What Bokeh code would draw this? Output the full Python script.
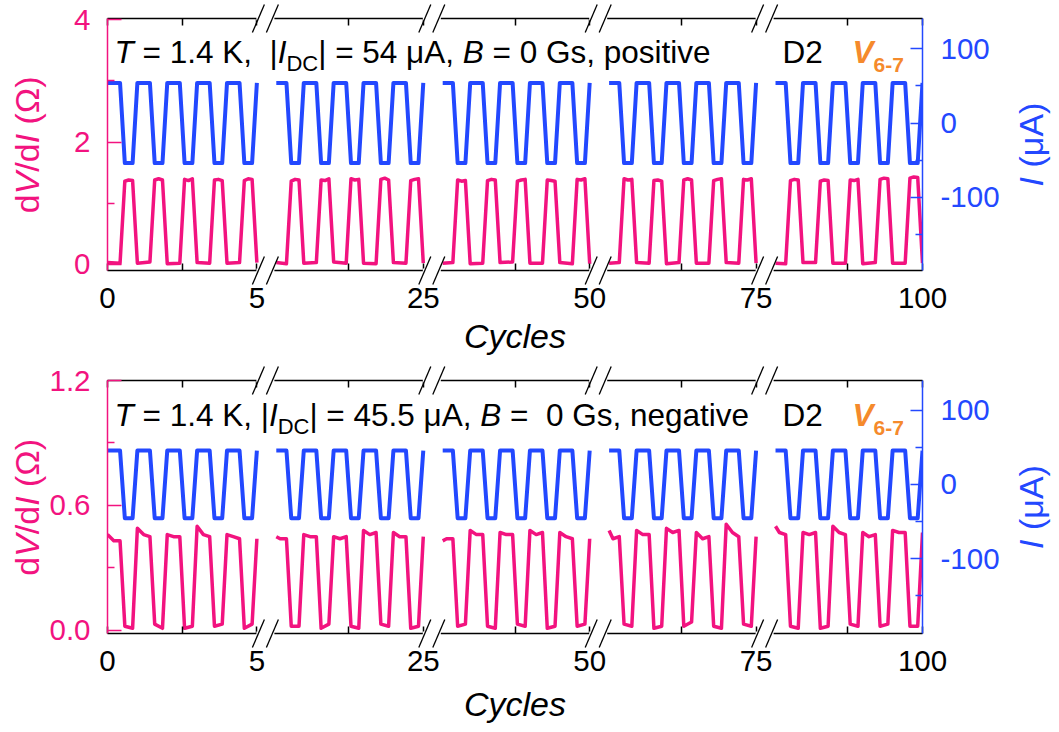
import re
from bokeh.plotting import figure
from bokeh.models import Range1d, LinearAxis, FixedTicker
from bokeh.core.properties import value
from bokeh.layouts import column
from bokeh.embed import file_html
from bokeh.resources import INLINE

# ---------------- data ----------------
axis_break_labels = ["0", "5", "25", "50", "75", "100"]     # cycle numbers at segment edges
cycles_per_segment = 5
# one drive cycle of the square-wave current: phase -> sign
current_phase = [0.0, 0.42, 0.58, 0.84, 1.0]
current_sign = [1, 1, -1, -1, 1]
I_dc_top = 54.0        # uA
I_dc_bottom = 45.5     # uA
# dV/dI sample phases inside one cycle
plateau_phase_hi = [0.58, 0.71, 0.84]   # top panel (high while current is negative)
plateau_phase_lo = [0.0, 0.42]
plateau_phase_hi_b = [0.0, 0.21, 0.42]  # bottom panel (high while current is positive)
plateau_phase_lo_b = [0.58, 0.84]

dvdi_high_top = [
    [1.36, 1.38, 1.37], [1.38, 1.40, 1.38], [1.39, 1.37, 1.40], [1.38, 1.39, 1.37], [1.37, 1.40, 1.39],
    [1.36, 1.39, 1.38], [1.38, 1.37, 1.40], [1.40, 1.38, 1.39], [1.39, 1.41, 1.38], [1.37, 1.39, 1.40],
    [1.38, 1.36, 1.37], [1.37, 1.39, 1.38], [1.36, 1.38, 1.39], [1.38, 1.37, 1.36], [1.39, 1.38, 1.40],
    [1.40, 1.38, 1.39], [1.37, 1.38, 1.36], [1.38, 1.40, 1.38], [1.37, 1.39, 1.40], [1.39, 1.38, 1.40],
    [1.37, 1.39, 1.38], [1.36, 1.38, 1.37], [1.38, 1.37, 1.39], [1.39, 1.41, 1.40], [1.41, 1.43, 1.42],
]
dvdi_low_top = [
    [0.03, 0.02], [0.02, 0.04], [0.01, 0.02], [0.03, 0.02], [0.02, 0.03],
    [0.03, 0.01], [0.02, 0.03], [0.04, 0.02], [0.02, 0.01], [0.03, 0.02],
    [0.02, 0.03], [0.01, 0.02], [0.03, 0.04], [0.02, 0.02], [0.03, 0.01],
    [0.02, 0.03], [0.03, 0.02], [0.01, 0.03], [0.02, 0.02], [0.03, 0.02],
    [0.02, 0.01], [0.03, 0.03], [0.02, 0.02], [0.01, 0.03], [0.02, 0.02],
]
dvdi_high_bottom = [
    [0.46, 0.43, 0.43], [0.49, 0.46, 0.45], [0.46, 0.45, 0.45], [0.50, 0.46, 0.45], [0.46, 0.45, 0.44],
    [0.45, 0.44, 0.44], [0.46, 0.45, 0.45], [0.45, 0.44, 0.45], [0.48, 0.46, 0.47], [0.47, 0.45, 0.45],
    [0.43, 0.44, 0.44], [0.48, 0.46, 0.46], [0.47, 0.46, 0.46], [0.48, 0.46, 0.47], [0.47, 0.45, 0.44],
    [0.48, 0.44, 0.45], [0.48, 0.46, 0.46], [0.49, 0.47, 0.48], [0.47, 0.44, 0.45], [0.51, 0.47, 0.45],
    [0.50, 0.47, 0.46], [0.47, 0.46, 0.47], [0.50, 0.47, 0.46], [0.47, 0.45, 0.46], [0.48, 0.47, 0.47],
]
dvdi_low_bottom = [
    [0.02, 0.01], [0.03, 0.01], [0.01, 0.02], [0.02, 0.03], [0.01, 0.03],
    [0.02, 0.02], [0.01, 0.03], [0.02, 0.01], [0.03, 0.02], [0.01, 0.02],
    [0.02, 0.03], [0.02, 0.01], [0.03, 0.02], [0.01, 0.02], [0.02, 0.03],
    [0.03, 0.02], [0.01, 0.02], [0.02, 0.04], [0.02, 0.01], [0.03, 0.02],
    [0.02, 0.01], [0.01, 0.02], [0.03, 0.02], [0.02, 0.03], [0.02, 0.02],
]

# ---------------- style / layout ----------------
FONT = "Liberation Sans"
PINK = "#F2137F"
BLUE = "#2348FF"
ORANGE = "#F58A2C"
GAP = 0.57
SEG_STEP = cycles_per_segment + GAP
NSEG = len(axis_break_labels) - 1
X_END = (NSEG - 1) * SEG_STEP + cycles_per_segment
BASE_FIX = 0.36   # rendered alphabetic baseline sits lower by this fraction of the font size

ADV = {' ': 278, '(': 333, ')': 333, ',': 278, '-': 333, '.': 278, '/': 278, '=': 584, '|': 260,
       'A': 667, 'B': 667, 'C': 722, 'D': 722, 'G': 778, 'I': 278, 'K': 667, 'T': 611, 'V': 667,
       'a': 556, 'c': 500, 'd': 556, 'e': 556, 'g': 556, 'i': 222, 'l': 222, 'n': 556, 'o': 556,
       'p': 556, 's': 500, 't': 278, 'v': 500, 'y': 500, 'μ': 576, 'Ω': 768}


def adv(s, size):
    return sum(ADV.get(ch, 556) for ch in s) * size / 1000.0


class Geo:
    def __init__(self, left, right, top, bottom, height, xr, yr):
        self.left, self.right, self.top, self.bottom = left, right, top, bottom
        self.height = height
        self.xr, self.yr = xr, yr

    def x(self, px):
        return self.xr[0] + (px - self.left) / (self.right - self.left) * (self.xr[1] - self.xr[0])

    def y(self, py):
        return self.yr[0] + (self.bottom - py) / (self.bottom - self.top) * (self.yr[1] - self.yr[0])

    def px(self, x):
        return self.left + (x - self.xr[0]) / (self.xr[1] - self.xr[0]) * (self.right - self.left)


def put_text(p, geo, px, py, text, size, style, color, align="left", angle=0.0):
    if angle == 0:
        py -= BASE_FIX * size
    else:
        px -= BASE_FIX * size
    p.text(x=[geo.x(px)], y=[geo.y(py)], text=[text], text_font=value(FONT),
           text_font_size=value(f"{size}px"), text_font_style=value(style), text_color=color,
           text_align=value(align), text_baseline=value("alphabetic"), angle=angle, level="overlay")


def add_rich(p, geo, x0, y0, pieces, angle=0.0):
    pos = 0.0
    for text, size, style, color, dy in pieces:
        for m in re.finditer(r"\S+(?: \S+)*", text):
            off = pos + adv(text[:m.start()], size)
            if angle == 0:
                px, py = x0 + off, y0 + dy
            else:
                px, py = x0 + dy, y0 - off
            put_text(p, geo, px, py, m.group(0), size, style, color, angle=angle)
        pos += adv(text, size)


def style_axis(ax, color, major_in, minor_in, standoff, size="29.5px"):
    ax.axis_line_color = color
    ax.axis_line_width = 1.5
    ax.major_tick_line_color = color
    ax.minor_tick_line_color = color
    ax.major_tick_line_width = 1.5
    ax.minor_tick_line_width = 1.5
    ax.major_tick_in = major_in
    ax.major_tick_out = 0
    ax.minor_tick_in = minor_in
    ax.minor_tick_out = 0
    ax.major_label_text_color = color
    ax.major_label_text_font = FONT
    ax.major_label_text_font_size = size
    ax.major_label_standoff = standoff


def current_trace(amp):
    xs, ys = [], []
    for i in range(NSEG):
        sx, sy = [], []
        for k in range(cycles_per_segment):
            for j, (ph, sg) in enumerate(zip(current_phase, current_sign)):
                if j == len(current_phase) - 1 and k < cycles_per_segment - 1:
                    continue
                if k == 0 and j == 0 and i > 0:
                    ph = 0.08
                sx.append(i * SEG_STEP + k + ph)
                sy.append(sg * amp)
        xs.append(sx)
        ys.append(sy)
    return xs, ys


def dvdi_trace(hi, lo, inphase):
    xs, ys = [], []
    for i in range(NSEG):
        sx, sy = [], []
        for k in range(cycles_per_segment):
            n = i * cycles_per_segment + k
            b = i * SEG_STEP + k
            if inphase:
                pts = list(zip(plateau_phase_hi_b, hi[n])) + list(zip(plateau_phase_lo_b, lo[n]))
                end_v = hi[n][2]
            else:
                pts = list(zip(plateau_phase_lo, lo[n])) + list(zip(plateau_phase_hi, hi[n]))
                end_v = lo[n][1]
            if k == 0 and i > 0:
                pts[0] = (0.08, pts[0][1])
            for ph, v in pts:
                sx.append(b + ph)
                sy.append(v)
        sx.append(b + 1.0)
        sy.append(end_v)
        xs.append(sx)
        ys.append(sy)
    return xs, ys


def make_panel(geo, yI, lticks, lminor, lover, amp, hi, lo, inphase, note, base_y, cyc_y):
    p = figure(width=1059, height=geo.height, title=None, x_range=Range1d(*geo.xr), y_range=Range1d(*geo.yr),
               output_backend="svg", toolbar_location=None, x_axis_location=None, y_axis_location=None,
               min_border_left=geo.left, min_border_right=1059 - geo.right,
               min_border_top=geo.top, min_border_bottom=geo.height - geo.bottom)
    p.outline_line_color = None
    p.background_fill_color = "white"
    p.border_fill_color = "white"
    p.grid.visible = False
    p.extra_y_ranges = {"I": Range1d(*yI)}

    # broken x axis ticks
    xt = [0.0] + [round(i * SEG_STEP + cycles_per_segment, 4) for i in range(NSEG)]
    xm = [round(i * SEG_STEP + cycles_per_segment / 2, 4) for i in range(NSEG)]
    xover = {v: lab for v, lab in zip(xt, axis_break_labels)}

    bx = LinearAxis(ticker=FixedTicker(ticks=xt, minor_ticks=xm), major_label_overrides=xover)
    style_axis(bx, "black", 7, 7, 17)
    p.add_layout(bx, "below")
    tx = LinearAxis(ticker=FixedTicker(ticks=xt, minor_ticks=xm))
    style_axis(tx, "black", 7, 7, 0, size="1px")
    tx.major_label_text_color = None
    p.add_layout(tx, "above")

    ly = LinearAxis(ticker=FixedTicker(ticks=lticks, minor_ticks=lminor), major_label_overrides=lover)
    style_axis(ly, PINK, 14, 7, 17)
    p.add_layout(ly, "left")
    ry = LinearAxis(y_range_name="I", ticker=FixedTicker(ticks=[-100, 0, 100], minor_ticks=[-150, -50, 50]),
                    major_label_overrides={-100: "-100", 0: "0", 100: "100"})
    style_axis(ry, BLUE, 12, 7, 18)
    p.add_layout(ry, "right")

    cx, cy = current_trace(amp)
    p.multi_line(xs=cx, ys=cy, line_color=BLUE, line_width=4, line_join="round", y_range_name="I")
    dx, dy = dvdi_trace(hi, lo, inphase)
    p.multi_line(xs=dx, ys=dy, line_color=PINK, line_width=3.5, line_join="round")

    # axis breaks (white gap + double slash) on top and bottom axes
    ex0, ex1, ey = [], [], []
    sx0, sy0, sx1, sy1 = [], [], [], []
    for j in range(NSEG - 1):
        gc = geo.px(j * SEG_STEP + cycles_per_segment + GAP / 2)
        for ypx in (geo.top, geo.bottom):
            ex0.append(geo.x(gc - 9)); ex1.append(geo.x(gc + 9)); ey.append(geo.y(ypx))
            for c in (gc - 7, gc + 7):
                sx0.append(geo.x(c - 6)); sy0.append(geo.y(ypx + 14))
                sx1.append(geo.x(c + 6)); sy1.append(geo.y(ypx - 14))
    p.segment(x0=ex0, y0=ey, x1=ex1, y1=ey, line_color="white", line_width=4, level="overlay")
    p.segment(x0=sx0, y0=sy0, x1=sx1, y1=sy1, line_color="black", line_width=1.3, level="overlay")

    # annotation text inside the frame
    add_rich(p, geo, 114, base_y, note)
    add_rich(p, geo, 782, base_y, [("D2", 31.5, "normal", "black", 0)])
    add_rich(p, geo, 852, base_y, [("V", 31.5, "bold italic", ORANGE, 0)])
    add_rich(p, geo, 852 + adv("V", 31.5), base_y, [("6-7", 21, "bold", ORANGE, 9)])

    # axis titles
    mid = (geo.top + geo.bottom) / 2.0
    left_title = [("d", 34, "normal", PINK, 0), ("V", 34, "italic", PINK, 0), ("/d", 34, "normal", PINK, 0),
                  ("I", 34, "italic", PINK, 0), (" (Ω)", 34, "normal", PINK, 0)]
    wl = sum(adv(t[0], t[1]) for t in left_title)
    add_rich(p, geo, 38.5, mid + wl / 2, left_title, angle=1.5707963)
    right_title = [("I", 34, "italic", BLUE, 0), (" (μA)", 34, "normal", BLUE, 0)]
    wr = sum(adv(t[0], t[1]) for t in right_title)
    add_rich(p, geo, 1043, mid + wr / 2, right_title, angle=1.5707963)
    put_text(p, geo, (geo.left + geo.right) / 2, cyc_y, "Cycles", 34, "italic", "black", align="center")
    return p


S = 31.5
note_top = [("T", S, "italic", "black", 0), (" = 1.4 K,  |", S, "normal", "black", 0),
            ("I", S, "italic", "black", 0), ("DC", 22, "normal", "black", 8),
            ("| = 54 μA, ", S, "normal", "black", 0), ("B", S, "italic", "black", 0),
            (" = 0 Gs, positive", S, "normal", "black", 0)]
note_bot = [("T", S, "italic", "black", 0), (" = 1.4 K, |", S, "normal", "black", 0),
            ("I", S, "italic", "black", 0), ("DC", 22, "normal", "black", 8),
            ("| = 45.5 μA, ", S, "normal", "black", 0), ("B", S, "italic", "black", 0),
            (" =  0 Gs, negative", S, "normal", "black", 0)]

# top figure 0..360 px, bottom figure 360..732 px (local coordinates)
geo1 = Geo(107, 922, 18, 270, 360, (0.0, X_END), (-0.10, 4.02))
geo2 = Geo(107, 922, 20, 273, 372, (0.0, X_END), (-0.015, 1.2))

p1 = make_panel(geo1, (-199, 141), [0, 2, 4], [1, 3], {0: "0", 2: "2", 4: "4"},
                I_dc_top, dvdi_high_top, dvdi_low_top, False, note_top, 63, 348)
p2 = make_panel(geo2, (-201, 140), [0, 0.6, 1.2], [0.3, 0.9], {0: "0.0", 0.6: "0.6", 1.2: "1.2"},
                I_dc_bottom, dvdi_high_bottom, dvdi_low_bottom, True, note_bot, 66, 356)

layout = column(p1, p2, spacing=0)
open("out.html", "w").write(file_html(layout, INLINE))
